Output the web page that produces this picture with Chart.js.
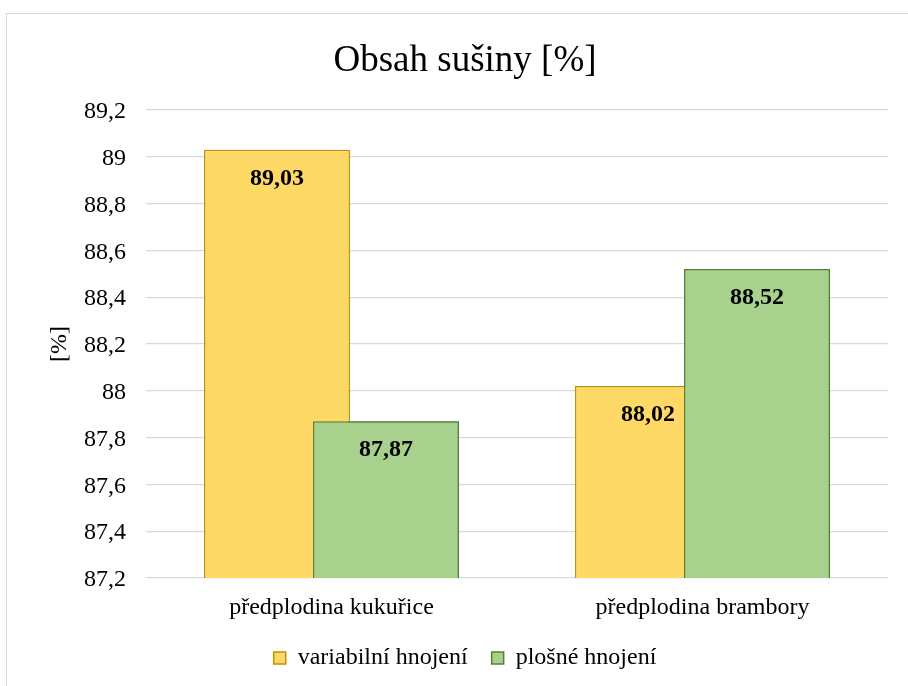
<!DOCTYPE html>
<html>
<head>
<meta charset="utf-8">
<script src="https://cdn.jsdelivr.net/npm/chart.js@4/dist/chart.umd.min.js"></script>
<style>
  body { margin: 0; background: #fff; }
  #wrap { position: relative; width: 908px; height: 686px; overflow: hidden; }
  #frame { position: absolute; left: 6px; top: 13px; width: 940px; height: 700px; border: 1px solid #d9d9d9; }
  canvas { position: absolute; left: 0; top: 0; }
</style>
</head>
<body>
<div id="wrap">
  <div id="frame"></div>
  <canvas id="chart" width="908" height="686"></canvas>
</div>
<script>
// Data
const categories = ["předplodina kukuřice", "předplodina brambory"];
const variabilni = [89.03, 88.02];
const plosne = [87.87, 88.52];
const seriesNames = ["variabilní hnojení", "plošné hnojení"];
const yMin = 87.2, yMax = 89.2, yStep = 0.2;

const SERIF = "'Liberation Serif', 'Times New Roman', serif";

function fmt(v, digits) {
  return Number(v.toFixed(digits)).toString().replace(".", ",");
}

// green bars overlap the yellow ones, so draw them again on top, then the labels
const overlapAndLabels = {
  id: "overlapAndLabels",
  afterDatasetsDraw(chart) {
    const ctx = chart.ctx;
    const a = chart.chartArea;
    ctx.save();
    ctx.beginPath();
    ctx.rect(a.left, a.top - 5, a.right - a.left, a.bottom - a.top + 5);
    ctx.clip();
    chart.getDatasetMeta(1).controller.draw();
    ctx.restore();

    ctx.save();
    ctx.font = "bold 24px " + SERIF;
    ctx.fillStyle = "#000";
    ctx.textAlign = "center";
    ctx.textBaseline = "middle";
    chart.data.datasets.forEach((ds, i) => {
      chart.getDatasetMeta(i).data.forEach((bar, j) => {
        ctx.fillText(fmt(ds.data[j], 2), bar.x, bar.y + 29);
      });
    });
    ctx.restore();
  }
};

new Chart(document.getElementById("chart"), {
  type: "bar",
  data: {
    labels: categories,
    datasets: [
      {
        label: seriesNames[0],
        data: variabilni,
        backgroundColor: "#FFD966",
        borderColor: "#BF9000",
        borderWidth: 1.5,
      },
      {
        label: seriesNames[1],
        data: plosne,
        backgroundColor: "#A9D18E",
        borderColor: "#548235",
        borderWidth: 1.5,
      },
    ],
  },
  options: {
    responsive: false,
    animation: false,
    categoryPercentage: 0.5876,
    barPercentage: 1.339,
    layout: { padding: { left: 42, right: 20, top: 0, bottom: 6 } },
    scales: {
      x: {
        grid: { display: false, drawTicks: false },
        border: { display: false },
        ticks: { color: "#000", font: { family: SERIF, size: 24 }, padding: 15 },
        afterFit: (s) => { s.height = 44; },
      },
      y: {
        min: yMin,
        max: yMax,
        grid: { color: "#d9d9d9", lineWidth: 1.3, drawTicks: false },
        border: { display: false },
        ticks: {
          stepSize: yStep,
          color: "#000",
          padding: 20,
          labelOffset: 2,
          font: { family: SERIF, size: 24 },
          callback: (v) => fmt(v, 1),
        },
        title: {
          display: true,
          text: "[%]",
          color: "#000",
          font: { family: SERIF, size: 24 },
          padding: { top: 3, bottom: 0 },
        },
        afterFit: (s) => { s.width = 104; },
      },
    },
    plugins: {
      title: {
        display: true,
        text: "Obsah sušiny [%]",
        color: "#000",
        font: { family: SERIF, size: 37, weight: "normal" },
        padding: { top: 39, bottom: 26.6 },
      },
      legend: {
        position: "bottom",
        labels: {
          boxWidth: 12,
          boxHeight: 12,
          padding: 24,
          color: "#000",
          font: { family: SERIF, size: 24 },
        },
      },
      tooltip: { enabled: false },
    },
  },
  plugins: [overlapAndLabels],
});
</script>
</body>
</html>
